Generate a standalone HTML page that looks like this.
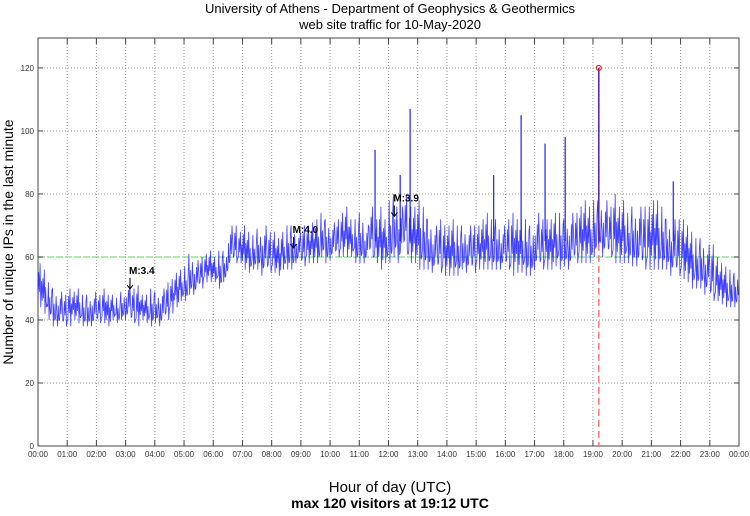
<!DOCTYPE html>
<html><head><meta charset="utf-8"><style>
body{margin:0;background:#fff;}
text{font-family:"Liberation Sans",sans-serif;}
</style></head><body>
<svg id="chart" width="750" height="511" xmlns="http://www.w3.org/2000/svg">
<text x="390" y="13" font-size="13" text-anchor="middle">University of Athens - Department of Geophysics &amp; Geothermics</text>
<text x="390" y="29" font-size="13" text-anchor="middle">web site traffic for 10-May-2020</text>
<g id="grid"></g>
<g id="series"></g>
<g id="axes"></g>
<text transform="translate(13,242) rotate(-90)" font-size="14" text-anchor="middle">Number of unique IPs in the last minute</text>
<text x="390" y="492" font-size="15" text-anchor="middle">Hour of day (UTC)</text>
<text x="390" y="508" font-size="14" font-weight="bold" text-anchor="middle">max 120 visitors at 19:12 UTC</text>
</svg>
<script>
const yTicks=[0,20,40,60,80,100,120];
const xTickLabels=["00:00","01:00","02:00","03:00","04:00","05:00","06:00","07:00","08:00","09:00","10:00","11:00","12:00","13:00","14:00","15:00","16:00","17:00","18:00","19:00","20:00","21:00","22:00","23:00","00:00"];
const lo=[44,42,40,38,38,38, 38,40,39,38,38,38, 39,39,38,40,39,40, 40,39,38,40,39,38, 39,38,40,42,44,46, 46,48,48,50,52,52, 52,50,52,56,58,58, 56,55,56,56,54,55, 55,54,56,56,56,58, 57,58,58,58,60,58, 59,60,60,60,60,58, 58,58,60,58,56,58, 58,60,58,62,58,58, 56,56,56,55,55,54, 54,54,54,56,55,55, 56,56,56,56,56,56, 56,54,55,55,54,54, 56,56,56,56,57,56, 57,56,58,58,58,58, 60,62,60,60,58,58, 58,58,57,57,56,56, 56,56,56,56,54,54, 53,52,50,50,50,48, 46,46,45,44,44,44];
const hi=[58,56,52,50,49,48, 50,49,50,48,48,49, 48,50,48,48,47,49, 52,50,51,48,48,50, 49,50,52,53,55,56, 57,61,59,60,61,62, 60,62,62,70,70,68, 70,68,67,69,70,68, 68,66,68,70,70,68, 70,70,71,72,74,72, 71,72,74,76,72,72, 74,70,76,72,76,72, 78,80,76,80,76,76, 78,76,72,70,72,70, 70,72,70,70,70,70, 70,72,74,72,72,70, 72,74,72,72,72,70, 74,72,72,72,74,74, 72,74,74,76,78,76, 78,78,78,76,80,76, 78,74,76,76,76,76, 78,78,76,72,72,72, 72,70,68,66,66,64, 64,60,58,57,56,55];
const spikeHours=[11.54,12.4,12.74,15.6,16.54,17.36,18.05,21.75];
const spikeVals=[94,86,107,86,105,96,98,84];
const maxHour=19.2, maxVal=120, refLevel=60;
const quakeHours=[3.15,8.75,12.2];
const quakeVals=[47,60,70];
const quakeLabels=["M:3.4","M:4.0","M:3.9"];

const X0=38,X1=739,Y0=446,Y1=38,YMAX=129.5;
const sx=h=>X0+(X1-X0)*h/24;
const sy=v=>Y0-(Y0-Y1)*v/YMAX;
const NS="http://www.w3.org/2000/svg";
function mk(tag,attrs,parent){const e=document.createElementNS(NS,tag);for(const k in attrs)e.setAttribute(k,attrs[k]);parent.appendChild(e);return e;}
const grid=document.getElementById('grid'),axes=document.getElementById('axes'),ser=document.getElementById('series');
mk('rect',{x:X0,y:Y1,width:X1-X0,height:Y0-Y1,fill:'#fff',stroke:'#444','stroke-width':1},grid);
yTicks.forEach(v=>{
  if(v>0){const l=mk('line',{x1:X0,x2:X1,y1:sy(v),y2:sy(v),stroke:'#999','stroke-dasharray':'1,2'},grid);
  }
  mk('line',{x1:X0,x2:X0+5,y1:sy(v),y2:sy(v),stroke:'#444'},axes);
  mk('line',{x1:X1-5,x2:X1,y1:sy(v),y2:sy(v),stroke:'#444'},axes);
  const t=mk('text',{x:X0-4,y:sy(v)+3,'font-size':8,'text-anchor':'end',fill:'#333'},axes);
  t.textContent=v;
  
  
});
xTickLabels.forEach((lab,i)=>{
  const x=sx(i);
  if(i>0&&i<24){const l=mk('line',{x1:x,x2:x,y1:Y1,y2:Y0,stroke:'#999','stroke-dasharray':'1,2'},grid);
  }
  mk('line',{x1:x,x2:x,y1:Y0-6,y2:Y0,stroke:'#444'},axes);
  mk('line',{x1:x,x2:x,y1:Y1,y2:Y1+6,stroke:'#444'},axes);
  const t=mk('text',{x:x,y:Y0+11,'font-size':8,'text-anchor':'middle',fill:'#333'},axes);
  t.textContent=lab;
  
  
});
const rl=mk('line',{x1:X0,x2:X1,y1:sy(refLevel),y2:sy(refLevel),stroke:'#7de07d','stroke-width':1.2,'stroke-dasharray':'6,3'},ser);


let d='';const n=lo.length,pat=[0.2,0.8,0.35,1.0,0.0,0.6,0.15];
for(let i=0;i<n;i++){for(let k=0;k<pat.length;k++){const h=(i+k/pat.length)*24/n;const v=lo[i]+(hi[i]-lo[i])*pat[(k+i)%pat.length];d+=(d?'L':'M')+sx(h).toFixed(1)+','+sy(v).toFixed(1);}}
const band=mk('path',{d:d,fill:'none',stroke:'#1010ff','stroke-width':0.8,'stroke-opacity':0.8},ser);


spikeHours.forEach((h,i)=>{
  const s=mk('line',{x1:sx(h),x2:sx(h),y1:sy(65),y2:sy(spikeVals[i]),stroke:'#2222ee','stroke-width':1.2},ser);
  
  
});
const ml=mk('line',{x1:sx(maxHour),x2:sx(maxHour),y1:sy(maxVal),y2:Y0,stroke:'#ff7777','stroke-width':1.5,'stroke-dasharray':'7,4'},ser);


const sp=mk('line',{x1:sx(maxHour),x2:sx(maxHour),y1:sy(maxVal),y2:sy(65),stroke:'#5522aa','stroke-width':1.5},ser);


const mc=mk('circle',{cx:sx(maxHour),cy:sy(maxVal),r:2.5,fill:'none',stroke:'#ee2222','stroke-width':1.2},ser);


quakeHours.forEach((h,i)=>{
  const x=sx(h),y=sy(quakeVals[i]);
  const t=mk('text',{x:x-1,y:y-24,'font-size':10,'font-weight':'bold'},ser);
  t.textContent=quakeLabels[i];
  
  
  const a=mk('path',{d:`M${x},${y-20}V${y-9}M${x-3},${y-13}L${x},${y-9}L${x+3},${y-13}`,fill:'none',stroke:'#000','stroke-width':1},ser);
  
  
});
</script>
</body></html>
